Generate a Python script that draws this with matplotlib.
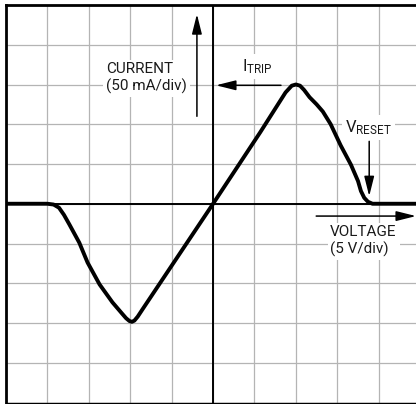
import numpy as np
import matplotlib
matplotlib.use("Agg")
import matplotlib.pyplot as plt

plt.rcParams['font.family'] = ['Roboto', 'DejaVu Sans']
plt.rcParams['mathtext.fontset'] = 'custom'
plt.rcParams['mathtext.rm'] = 'Roboto'

# trace, in divisions
volt_div = [-5.0, -4.0, -3.85, -3.72, -3.6, -3.47, -3.23, -3.03, -2.74, -2.43,
            -2.2, -2.1, -2.02, -1.96, -1.9, -1.82, -1.7, 0.0, 1.14, 1.75,
            1.9, 2.0, 2.1, 2.2, 2.33, 2.5, 2.65, 2.84, 3.08, 3.33,
            3.5, 3.57, 3.65, 3.74, 3.85, 5.0]
curr_div = [0.0, 0.0, -0.02, -0.1, -0.28, -0.52, -0.98, -1.48, -2.03, -2.48,
            -2.76, -2.88, -2.95, -2.97, -2.94, -2.84, -2.65, 0.0, 1.8, 2.8,
            2.97, 3.0, 2.97, 2.86, 2.68, 2.5, 2.32, 2.0, 1.47, 0.98,
            0.57, 0.32, 0.15, 0.05, 0.0, 0.0]

grid_ticks = np.arange(-5, 6)
txt_color = '#1a1a1a'

fig = plt.figure(figsize=(4.16, 4.04), dpi=100)
ax = fig.add_axes([6 / 416, 1.5 / 404, 410 / 416, 397.5 / 404])
ax.set_xlim(-5, 4.9)
ax.set_ylim(-5, 5)

# graticule
for g in grid_ticks:
    ax.axvline(g, color='#b4b4b4', lw=0.9, zorder=1)
    ax.axhline(g, color='#b4b4b4', lw=0.9, zorder=1)
ax.axvline(0, color='black', lw=1.4, zorder=2)
ax.axhline(0, color='black', lw=1.4, zorder=2)

ax.plot(volt_div, curr_div, color='black', lw=2.8, zorder=5,
        solid_joinstyle='round', solid_capstyle='round')

ax.set_xticks([])
ax.set_yticks([])
ax.spines['right'].set_visible(False)
ax.spines['left'].set_linewidth(2.0)
ax.spines['top'].set_linewidth(2.0)
ax.spines['bottom'].set_linewidth(1.0)

box = dict(facecolor='white', edgecolor='none', pad=2)
arrow = dict(arrowstyle='-|>,head_length=1.2,head_width=0.3', color='black',
             lw=1.1, shrinkA=0, shrinkB=0, mutation_scale=10)

# current axis label
ax.text(-2.58, 3.16, 'CURRENT\n(50 mA/div)', fontsize=11, color=txt_color,
        ha='left', va='center', linespacing=1.25, bbox=box, zorder=4)
ax.annotate('', xy=(-0.39, 4.77), xytext=(-0.39, 2.2), arrowprops=arrow, zorder=6)

# trip current
ax.text(0.70, 3.45, r'$\mathrm{I_{TRIP}}$', fontsize=12, color=txt_color,
        ha='left', va='center', bbox=box, zorder=4)
ax.annotate('', xy=(0.07, 2.98), xytext=(1.64, 2.98), arrowprops=arrow, zorder=6)

# reset voltage
ax.text(3.19, 1.92, r'$\mathrm{V_{RESET}}$', fontsize=12, color=txt_color,
        ha='left', va='center', bbox=box, zorder=4)
ax.annotate('', xy=(3.77, 0.19), xytext=(3.77, 1.57), arrowprops=arrow, zorder=6)

# voltage axis label
ax.text(2.83, -0.94, 'VOLTAGE\n(5 V/div)', fontsize=11, color=txt_color,
        ha='left', va='center', linespacing=1.25, bbox=box, zorder=4)
ax.annotate('', xy=(4.9, -0.31), xytext=(2.49, -0.31), arrowprops=arrow, zorder=6)

fig.savefig('out.png', dpi=100)
